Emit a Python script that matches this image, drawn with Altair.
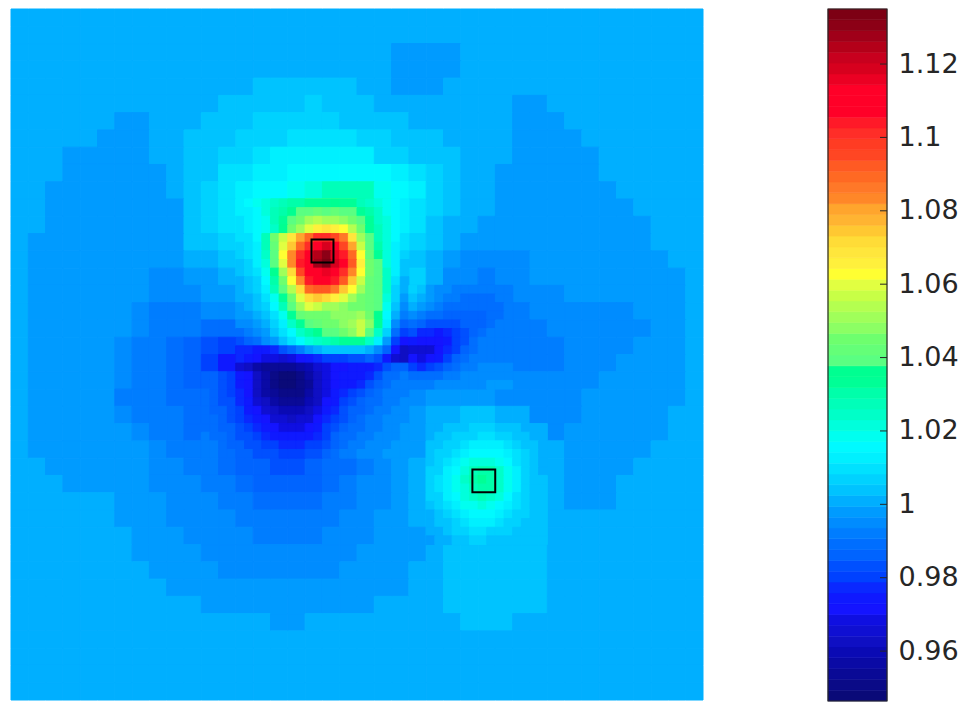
import altair as alt
import pandas as pd

LO, HI = 0.9464, 1.135
N = 40
# each row of the field: runs of (first column, values), in thousandths away from 1; everything else is 0
RUNS = {
 2: [(22, [-3]*4)],
 3: [(22, [-3]*4)],
 4: [(14, [4]*6), (22, [-3]*3)],
 5: [(12, [4,4,4,4,4,6,4,4,4]), (29, [-3,-3])],
 6: [(6, [-3,-3]), (11, [4,4,4,7,7,7,7,7,4,4,4,4]), (29, [-3]*3)],
 7: [(5, [-3]*3), (10, [4,4,4,7,7,7,10,10,10,10,7,7,4,4,4]), (29, [-3]*4)],
 8: [(3, [-3]*5), (10, [4,4,7,7,10,13,13,13,13,13,13,7,7,4,4,4]), (29, [-3]*5)],
 9: [(3, [-3]*6), (10, [4,4,10,10,13,13,16,16,16,16,16,16,13,10,7,4]), (28, [-3]*6)],
 10: [(2, [-3]*7), (10, [4,7,10,13,16,17,19,22,26,28,26,20,16,13,7,4]), (28, [-3]*7)],
 11: [(2, [-3]*8), (10, [4,7,10,14,20,28,37,42,44,40,30,21,14,10,7,4]), (28, [-3]*8)],
 12: [(2, [-3]*8), (10, [4,6,9,13,19,32,53,68,77,70,52,28,16,9,4,1]), (27, [-3]*10)],
 13: [(1, [-3]*9), (10, [3,4,7,11,18,40,84,105,125,100,65,30,14,7,3,0]), (26, [-3]*11)],
 14: [(1, [-3]*9), (10, [1,2,4,8,16,38,85,115,135,104,67,36,17,5,2,-3,-4,-5,-5,-5,-3,-3,-3,-3,-3,-3,-3,-3])],
 15: [(1, [-3]*7), (8, [-5,-5,-3,-1,1,4,14,28,70,95,105,92,66,38,22,7,1,-4,-6,-7,-6,-4,-3,-3,-3,-3,-3,-3,-3,-3,-3])],
 16: [(1, [-3]*7), (8, [-6,-6,-6,-3,-1,1,4,18,45,72,68,60,47,40,25,4,-3,-8,-12,-10,-7,-6,-5,-4,-3,-3,-3,-3,-3,-3,-3])],
 17: [(1, [-3]*6), (7, [-4,-7,-8,-8,-5,-4,-1,1,10,30,44,46,55,52,40,17,-1,-7,-12,-16,-14,-9,-7,-6,-6,-5,-5,-5,-5,-3,-3,-3])],
 18: [(1, [-3]*6), (7, [-5,-7,-8,-9,-11,-12,-10,-4,7,16,28,32,56,40,21,-1,-12,-20,-21,-15,-13,-9,-8,-7,-6,-6,-6,-6,-6,-4,-3,-3])],
 19: [(1, [-3]*5), (6, [-4,-7,-9,-11,-14,-17,-20,-25,-26,-12,5,9,12,13,8,-6,-28,-33,-36,-28,-18,-12,-9,-8,-8,-7,-6,-6,-6,-4,-3,-3,-3])],
 20: [(1, [-3]*5), (6, [-5,-7,-9,-11,-14,-21,-27,-31,-38,-38,-34,-30,-28,-26,-18,-13,-24,-30,-28,-15,-10,-9,-8,-7,-7,-7,-6,-6,-5,-3,-3,-3,-3])],
 21: [(1, [-3]*5), (6, [-6,-8,-9,-11,-13,-19,-26,-33,-44,-52,-52,-38,-32,-26,-28,-13,-10,-8,-7,-6,-5,-5,-6,-6,-6,-6,-6,-5,-3,-3,-3,-3,-3])],
 22: [(1, [-3]*5), (6, [-7,-8,-9,-10,-12,-17,-23,-31,-42,-50,-50,-38,-32,-26,-17,-12,-8,-5,-3,-1,-1,-3,-4,-5,-6,-6,-5,-3,-3,-3,-3,-3,-3])],
 23: [(1, [-3]*5), (6, [-6,-7,-8,-9,-11,-15,-20,-26,-33,-37,-37,-32,-26,-20,-14,-9,-6,-3,0,2,3,3,2,0,-4,-5,-4,-3,-3,-3,-3,-3])],
 24: [(1, [-3]*6), (7, [-6,-8,-9,-10,-12,-15,-18,-22,-25,-25,-23,-19,-15,-11,-7,-4,-1,2,5,9,10,8,4,1,-4,-3,-3,-3,-3,-3,-3])],
 25: [(1, [-3]*7), (8, [-6,-7,-9,-10,-12,-15,-18,-20,-20,-18,-15,-12,-9,-6,-3,-1,4,10,16,19,14,7,3,0,-3,-3,-3,-3,-3])],
 26: [(2, [-3]*6), (8, [-5,-6,-8,-9,-10,-13,-15,-17,-17,-15,-12,-10,-8,-5,-3,0,6,14,23,28,18,9,4,1,-3,-3,-3,-3])],
 27: [(3, [-3]*5), (8, [-4,-5,-6,-8,-9,-11,-13,-14,-14,-13,-10,-8,-6,-5,-3,1,8,16,24,33,20,9,4,1,-3,-3,-3])],
 28: [(6, [-3]*3), (9, [-4,-5,-6,-8,-9,-10,-11,-11,-10,-8,-7,-6,-4,-3,1,7,14,23,27,18,9,4,1,-3,-3,-3])],
 29: [(6, [-3,-3,-3,-4,-5,-5,-6,-7,-8,-9,-9,-8,-7,-6,-5,-3,-3,0,4,10,16,17,11,7,3,1])],
 30: [(7, [-3,-3,-3,-4,-5,-5,-6,-7,-8,-8,-7,-6,-5,-4,-3,-3,-3,1,5,9,8,6,4,3,1])],
 31: [(7, [-3,-3,-3,-3,-4,-5,-5,-6,-6,-6,-5,-5,-4,-3,-3,-3,-3,0,3,4,4,4,4,3])],
 32: [(8, [-3,-3,-3,-3,-4,-4,-5,-5,-5,-5,-4,-3,-3,-3,-3,0,0,3,4,4,4,4,3])],
 33: [(9, [-3]*14), (25, [3,4,4,4,4,3])],
 34: [(11, [-3]*10), (25, [3,4,4,4,4,3])],
 35: [(15, [-3,-3]), (26, [3,3,3])],
}
# finer readings (half a coarse cell) around the strongest features: (first column, first row, rows)
HOT_PEAK = (13, 11, [
 [13,15,18,21,24,27,30,31,33,34,34,36,34,32,28,25,21,18,15,12],
 [12,14,17,21,26,30,36,38,40,41,40,41,39,38,34,29,24,20,16,13],
 [11,13,16,20,26,34,40,45,50,53,52,50,48,44,38,32,25,21,16,13],
 [10,12,15,19,25,36,44,52,60,66,68,66,62,55,44,34,26,21,16,12],
 [9,11,16,28,45,58,70,80,90,100,100,95,85,68,52,38,28,22,16,11],
 [8,10,14,26,42,60,76,90,102,112,118,108,96,80,56,40,30,21,14,9],
 [6,9,13,24,40,62,82,100,112,124,130,116,104,90,62,42,34,22,13,7],
 [4,7,12,22,40,60,84,104,114,128,134,118,106,92,66,44,38,23,12,5],
 [3,6,10,19,35,52,72,96,110,112,116,110,102,84,62,44,38,24,12,3],
 [2,5,8,16,30,45,62,84,104,106,106,104,92,74,58,42,38,24,10,1],
 [1,3,7,13,26,40,55,72,88,92,92,86,74,62,52,42,38,24,8,0],
 [0,2,5,10,20,34,46,60,72,76,72,66,60,52,46,42,38,22,6,-3],
 [-1,1,3,7,15,27,40,50,60,56,52,50,47,46,44,42,38,19,3,-5],
 [-3,-1,1,4,10,20,33,42,46,46,46,47,47,48,50,46,36,16,0,-9],
 [-6,-4,-1,2,7,14,24,34,40,42,44,46,48,52,58,48,32,12,-6,-14],
 [-10,-8,-5,-1,3,9,17,25,31,35,38,40,44,48,56,40,24,7,-12,-20],
 [-16,-14,-10,-6,-1,4,10,16,21,25,27,29,32,34,34,24,13,-3,-20,-30],
 [-23,-24,-25,-26,-24,-18,-13,-8,-3,1,3,4,5,4,3,0,-6,-15,-30,-36],
 [-24,-27,-29,-31,-32,-33,-32,-30,-27,-22,-20,-20,-19,-18,-17,-14,-18,-26,-34,-37],
 [-33,-38,-42,-46,-47,-46,-46,-44,-40,-34,-32,-30,-28,-27,-27,-26,-22,-18,-15,-14],
])
SECOND_PEAK = (24, 24, [
 [1,2,3,4,5,6,6,6,5,4,3,2,1,0],
 [2,3,4,6,7,8,9,9,8,7,5,3,2,1],
 [3,4,6,8,10,12,13,13,12,10,7,5,3,1],
 [4,6,8,11,14,16,17,17,16,13,9,6,4,2],
 [5,7,10,14,18,21,23,23,20,16,11,7,4,2],
 [6,8,12,17,22,27,30,29,24,18,12,8,5,2],
 [7,9,13,18,24,30,33,31,25,19,13,8,5,3],
 [7,9,13,18,23,28,31,29,24,18,12,8,5,3],
 [6,8,12,16,21,25,27,25,21,16,11,8,5,3],
 [4,6,10,14,18,20,22,20,17,14,10,7,5,3],
 [2,4,8,11,14,16,17,16,14,11,8,6,4,3],
 [1,3,5,8,11,12,13,12,10,8,6,5,4,3],
 [0,2,4,6,8,9,9,8,7,6,5,4,4,3],
 [-1,0,2,4,5,6,6,5,5,4,4,4,4,3],
])
DARK_TROUGH = (11, 21, [
 [-13,-15,-17,-20,-25,-30,-37,-43,-48,-52,-54,-50,-44,-37,-31,-28,-27,-27,-26,-22,-16,-12,-10,-9],
 [-13,-15,-17,-20,-25,-30,-37,-43,-48,-51,-53,-50,-45,-38,-32,-28,-26,-25,-23,-18,-14,-11,-9,-8],
 [-12,-14,-16,-19,-24,-29,-36,-42,-46,-49,-50,-48,-44,-38,-32,-27,-24,-21,-18,-15,-12,-9,-8,-7],
 [-12,-14,-16,-18,-22,-27,-33,-38,-42,-45,-46,-45,-41,-36,-30,-25,-21,-18,-15,-12,-10,-8,-7,-6],
 [-11,-13,-15,-17,-21,-25,-29,-34,-38,-40,-41,-40,-37,-32,-27,-22,-18,-15,-13,-11,-9,-7,-6,-5],
 [-11,-12,-14,-16,-19,-23,-26,-30,-33,-35,-36,-35,-33,-29,-24,-20,-16,-13,-11,-9,-8,-6,-5,-4],
 [-10,-11,-13,-15,-17,-20,-23,-26,-29,-31,-31,-31,-29,-26,-21,-18,-14,-11,-10,-8,-7,-6,-5,-3],
 [-9,-10,-12,-14,-16,-18,-20,-23,-25,-26,-27,-27,-25,-22,-19,-15,-12,-10,-9,-7,-6,-5,-4,-3],
 [-8,-9,-11,-13,-14,-16,-18,-20,-21,-22,-23,-23,-21,-19,-16,-13,-11,-8,-8,-6,-5,-4,-3,-3],
 [-8,-9,-10,-11,-13,-14,-16,-17,-18,-19,-20,-20,-18,-16,-14,-12,-9,-7,-6,-5,-4,-3,-3,-1],
])
RIGHT_LOBE = (23, 16, [
 [8,4,-1,-4,-6,-8,-9,-9,-9,-9,-8,-8],
 [5,0,-3,-6,-8,-9,-10,-11,-11,-11,-9,-8],
 [1,-3,-6,-8,-10,-12,-12,-12,-12,-12,-11,-8],
 [-4,-7,-10,-12,-14,-14,-14,-13,-13,-12,-11,-8],
 [-10,-13,-16,-18,-18,-18,-15,-14,-13,-12,-9,-8],
 [-18,-22,-24,-25,-24,-21,-16,-14,-12,-9,-8,-8],
 [-26,-29,-30,-30,-26,-21,-16,-12,-9,-8,-8,-8],
 [-33,-35,-34,-30,-24,-19,-14,-10,-8,-8,-7,-7],
 [-30,-32,-30,-25,-20,-15,-11,-8,-8,-7,-7,-7],
 [-20,-22,-21,-18,-14,-11,-8,-7,-6,-6,-6,-6],
 [-11,-12,-12,-10,-9,-7,-6,-5,-5,-5,-5,-5],
 [-7,-7,-7,-6,-6,-5,-4,-4,-4,-3,-3,-3],
])
SQUARES = [(17.37, 18.64, 13.35, 14.68), (26.67, 27.99, 26.65, 27.98)]
TICKS = [0.96, 0.98, 1.0, 1.02, 1.04, 1.06, 1.08, 1.1, 1.12]
COLORS = [
 "#0a0a78","#0a0a87","#0a0a96","#0a0aa5","#0a0ab4","#0f0fc3","#0f0fd2","#0f0fe1","#1414ff",
 "#0f19ff","#0a28ff","#0041ff","#0050ff","#0064ff","#006eff","#007dff","#008cff","#009bff",
 "#00afff","#00c3ff","#00d2ff","#00e1ff","#00f0ff","#00faff","#00fff0","#00ffdc","#00ffc8",
 "#00ffb9","#00ffaa","#00ff96","#00ff91","#5aff82","#64ff78","#6eff6e","#8cff64","#a0ff5a",
 "#b4ff50","#c8ff46","#e1ff41","#ffff32","#fff03c","#ffe63c","#ffdc37","#ffc832","#ffb432",
 "#ffa52d","#ff8728","#ff7828","#ff6923","#ff5a23","#ff4623","#ff3c23","#ff2d28","#ff1928",
 "#ff0028","#ff0028","#ff0028","#eb0023","#d7001e","#c8001e","#b40019","#a00019","#8c0016","#7d0014",
]

rows = []
for r in range(N):
    vals = [0] * N
    for start, run in RUNS.get(r, []):
        vals[start:start + len(run)] = run
    for c, v in enumerate(vals):
        rows.append({"x": c, "x2": c + 1, "y": r, "y2": r + 1, "v": 1 + v / 1000})
for col0, row0, block in (HOT_PEAK, SECOND_PEAK, DARK_TROUGH, RIGHT_LOBE):
    for j, line in enumerate(block):
        for i, v in enumerate(line):
            rows.append({"x": col0 + i / 2, "x2": col0 + (i + 1) / 2,
                         "y": row0 + j / 2, "y2": row0 + (j + 1) / 2, "v": 1 + v / 1000})
field = pd.DataFrame(rows)

color_scale = alt.Scale(type="quantize", domain=[LO, HI], range=COLORS)
x_scale = alt.Scale(domain=[0, N], nice=False, zero=False)
y_scale = alt.Scale(domain=[N, 0], nice=False, zero=False)

cells = alt.Chart(field).mark_rect(strokeWidth=1).encode(
    x=alt.X("x:Q", scale=x_scale, axis=None), x2="x2:Q",
    y=alt.Y("y:Q", scale=y_scale, axis=None), y2="y2:Q",
    color=alt.Color("v:Q", scale=color_scale, legend=None),
    stroke=alt.Stroke("v:Q", scale=color_scale, legend=None),
)
boxes = alt.Chart(pd.DataFrame(SQUARES, columns=["a", "b", "c", "d"])).mark_rect(
    fill="transparent", stroke="black", strokeWidth=2
).encode(x=alt.X("a:Q", scale=x_scale, axis=None), x2="b:Q",
         y=alt.Y("c:Q", scale=y_scale, axis=None), y2="d:Q")
heat = alt.layer(cells, boxes).properties(width=692, height=691)

step = (HI - LO) / len(COLORS)
bar_df = pd.DataFrame([{"lo": LO + k * step, "hi": LO + (k + 1) * step, "c": COLORS[k]}
                       for k in range(len(COLORS))])
bar_y = alt.Scale(domain=[LO, HI], nice=False, zero=False)
bar_axis = alt.Axis(values=TICKS, title=None, orient="right", domain=False, ticks=False, grid=False,
                    labelPadding=11, labelFontSize=27, labelFont="DejaVu Sans", labelColor="#262626",
                    format=".3~g", labelOverlap=False)
bands = alt.Chart(bar_df).mark_rect(strokeWidth=0.6).encode(
    y=alt.Y("lo:Q", scale=bar_y, axis=bar_axis), y2="hi:Q",
    color=alt.Color("c:N", scale=None, legend=None),
    stroke=alt.Stroke("c:N", scale=None, legend=None),
)
frame = alt.Chart(pd.DataFrame({"lo": [LO], "hi": [HI]})).mark_rect(
    fill="transparent", stroke="#262626", strokeWidth=1.2
).encode(y=alt.Y("lo:Q", scale=bar_y, axis=bar_axis), y2="hi:Q")
tick_marks = alt.Chart(pd.DataFrame({"t": TICKS})).mark_rule(color="#262626", strokeWidth=1).encode(
    x=alt.value(52), x2=alt.value(59), y=alt.Y("t:Q", scale=bar_y, axis=bar_axis))
bar = alt.layer(bands, frame, tick_marks).properties(width=59, height=692)

chart = alt.hconcat(heat, bar, spacing=123).properties(
    padding={"left": 2, "top": 0, "right": 0, "bottom": 0}, background="white"
).resolve_scale(color="independent", stroke="independent").configure_view(strokeWidth=0)

chart.save("out.html", embed_options={"renderer": "svg", "actions": False})
